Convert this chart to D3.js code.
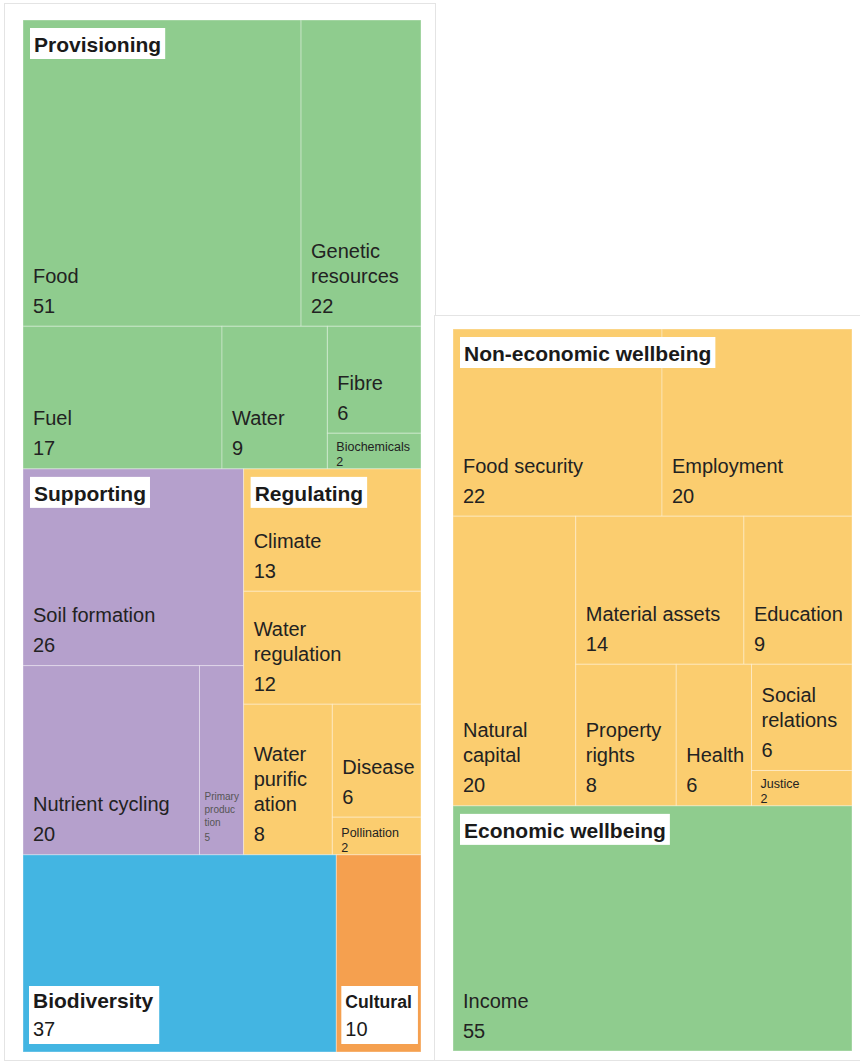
<!DOCTYPE html>
<html>
<head>
<meta charset="utf-8">
<script src="https://cdn.jsdelivr.net/npm/d3@7"></script>
<style>
  body { margin: 0; background: #fff; }
  svg { display: block; font-family: Helvetica, Arial, "Liberation Sans", sans-serif; }
</style>
</head>
<body>
<svg id="chart" width="860" height="1063"></svg>
<script>
// ecosystem services (left) and wellbeing (right)
const leftNames = ["Food", "Genetic resources", "Fuel", "Water", "Fibre", "Biochemicals",
  "Soil formation", "Nutrient cycling", "Primary production",
  "Climate", "Water regulation", "Water purification", "Disease", "Pollination",
  "Biodiversity", "Cultural"]
const leftValues = [51, 22, 17, 9, 6, 2, 26, 20, 5, 13, 12, 8, 6, 2, 37, 10]

const rightNames = ["Food security", "Employment", "Natural capital", "Material assets", "Education",
  "Property rights", "Health", "Social relations", "Justice", "Income"]
const rightValues = [22, 20, 20, 14, 9, 8, 6, 6, 2, 55]

const categories = ["Provisioning", "Supporting", "Regulating", "Biodiversity", "Cultural",
  "Non-economic wellbeing", "Economic wellbeing"]
const categoryColors = ["#8fcc8e", "#b5a0cc", "#fbcd6f", "#43b5e2", "#f5a04f", "#fbcd6f", "#8fcc8e"]

// how labels wrap in the original
const labelLines = {
  "Genetic resources": ["Genetic", "resources"],
  "Water regulation": ["Water", "regulation"],
  "Water purification": ["Water", "purific", "ation"],
  "Primary production": ["Primary", "produc", "tion"],
  "Natural capital": ["Natural", "capital"],
  "Property rights": ["Property", "rights"],
  "Social relations": ["Social", "relations"]
}

const svg = d3.select('#chart')
const color = d3.scaleOrdinal(categories, categoryColors)

// cards behind each treemap
svg.append('rect').attr('x', 4.5).attr('y', 3.5).attr('width', 431).attr('height', 1057)
  .attr('fill', '#fff').attr('stroke', '#e4e4e4')
svg.append('rect').attr('x', 434.5).attr('y', 315.5).attr('width', 440).attr('height', 745)
  .attr('fill', '#fff').attr('stroke', '#e4e4e4')

// tree helpers: 'v' = stacked top to bottom, 'h' = side by side
function lookup(names, values) {
  return function (n) {
    if (typeof n !== 'string') return n
    return { name: n, value: values[names.indexOf(n)] }
  }
}
function group(dir, name, kids, leaf) {
  return { dir: dir, name: name, children: kids.map(leaf) }
}

const L = lookup(leftNames, leftValues)
const leftTree = group('v', null, [
  group('v', 'Provisioning', [
    group('h', null, ['Food', 'Genetic resources'], L),
    group('h', null, ['Fuel', 'Water', group('v', null, ['Fibre', 'Biochemicals'], L)], L)
  ], L),
  group('h', null, [
    group('v', 'Supporting', ['Soil formation',
      group('h', null, ['Nutrient cycling', 'Primary production'], L)], L),
    group('v', 'Regulating', ['Climate', 'Water regulation',
      group('h', null, ['Water purification', group('v', null, ['Disease', 'Pollination'], L)], L)], L)
  ], L),
  group('h', null, ['Biodiversity', 'Cultural'], L)
], L)

const R = lookup(rightNames, rightValues)
const rightTree = group('v', null, [
  group('v', 'Non-economic wellbeing', [
    group('h', null, ['Food security', 'Employment'], R),
    group('h', null, ['Natural capital',
      group('v', null, [
        group('h', null, ['Material assets', 'Education'], R),
        group('h', null, ['Property rights', 'Health', group('v', null, ['Social relations', 'Justice'], R)], R)
      ], R)
    ], R)
  ], R),
  group('v', 'Economic wellbeing', ['Income'], R)
], R)

function tile(node, x0, y0, x1, y1) {
  if (node.data.dir === 'h') d3.treemapDice(node, x0, y0, x1, y1)
  else d3.treemapSlice(node, x0, y0, x1, y1)
}

function categoryOf(d) {
  let n = d
  while (n) {
    if (categories.indexOf(n.data.name) >= 0) return n.data.name
    n = n.parent
  }
  return null
}

function drawTreemap(data, x, y, w, h) {
  let root = d3.hierarchy(data).sum(d => d.children ? 0 : d.value)
  d3.treemap().tile(tile).size([w, h]).round(false)(root)

  let g = svg.append('g').attr('transform', 'translate(' + x + ',' + y + ')')

  let leaves = root.leaves()
  g.selectAll('rect.cell')
    .data(leaves)
    .enter()
    .append('rect')
    .attr('class', 'cell')
    .attr('x', d => d.x0)
    .attr('y', d => d.y0)
    .attr('width', d => d.x1 - d.x0)
    .attr('height', d => d.y1 - d.y0)
    .attr('fill', d => color(categoryOf(d)))
    .attr('stroke', 'rgba(255,255,255,0.35)')
    .attr('stroke-width', 1)

  // leaf labels
  leaves.forEach(function (d) {
    let cw = d.x1 - d.x0, ch = d.y1 - d.y0
    if (categories.indexOf(d.data.name) >= 0) {
      // a leaf that is also a category: boxed label at the bottom
      let box = g.append('rect').attr('fill', '#fff')
      let t = g.append('text').attr('fill', '#1a1a1a')
      let fs = 21
      let t1 = t.append('tspan').attr('x', d.x0 + 10).attr('y', d.y1 - 44)
        .attr('font-weight', 'bold').attr('font-size', fs).text(d.data.name)
      t.append('tspan').attr('x', d.x0 + 10).attr('y', d.y1 - 16)
        .attr('font-size', 20).text(d.value)
      let tw = t1.node().getComputedTextLength()
      if (tw > cw - 18) {
        fs = fs * (cw - 18) / tw
        t1.attr('font-size', fs)
        tw = t1.node().getComputedTextLength()
      }
      let bx = d.x0 + (cw < 120 ? 5 : 6)
      t.selectAll('tspan').attr('x', bx + 4)
      box.attr('x', bx).attr('y', d.y1 - 66).attr('width', tw + 10).attr('height', 58)
      return
    }
    let lines = labelLines[d.data.name] || [d.data.name]
    let fs = 20, lh = 25, gap = 30, bottom = 13.5, dx = 10, fill = '#222'
    if (ch < 45) { fs = 12.5; lh = 13; gap = 14.5; bottom = 3; dx = 9 }
    else if (cw < 50) { fs = 10; lh = 13; gap = 14.5; bottom = 14; dx = 5; fill = '#555' }
    let t = g.append('text').attr('font-size', fs).attr('fill', fill)
    t.append('tspan').attr('x', d.x0 + dx).attr('y', d.y1 - bottom).text(d.value)
    lines.forEach(function (s, i) {
      t.append('tspan')
        .attr('x', d.x0 + dx)
        .attr('y', d.y1 - bottom - gap - (lines.length - 1 - i) * lh)
        .text(s)
    })
  })

  // category headers on group nodes
  root.descendants().filter(d => d.children && d.data.name).forEach(function (d) {
    let box = g.append('rect').attr('fill', '#fff')
    let t = g.append('text')
      .attr('x', d.x0 + 11)
      .attr('y', d.y0 + 32)
      .attr('font-size', 21)
      .attr('font-weight', 'bold')
      .attr('fill', '#1a1a1a')
      .text(d.data.name)
    let tw = t.node().getComputedTextLength()
    box.attr('x', d.x0 + 7).attr('y', d.y0 + 8).attr('width', tw + 8).attr('height', 31)
  })
}

drawTreemap(leftTree, 23, 20, 398, 1032)
drawTreemap(rightTree, 453, 329, 399, 722)
</script>
</body>
</html>
